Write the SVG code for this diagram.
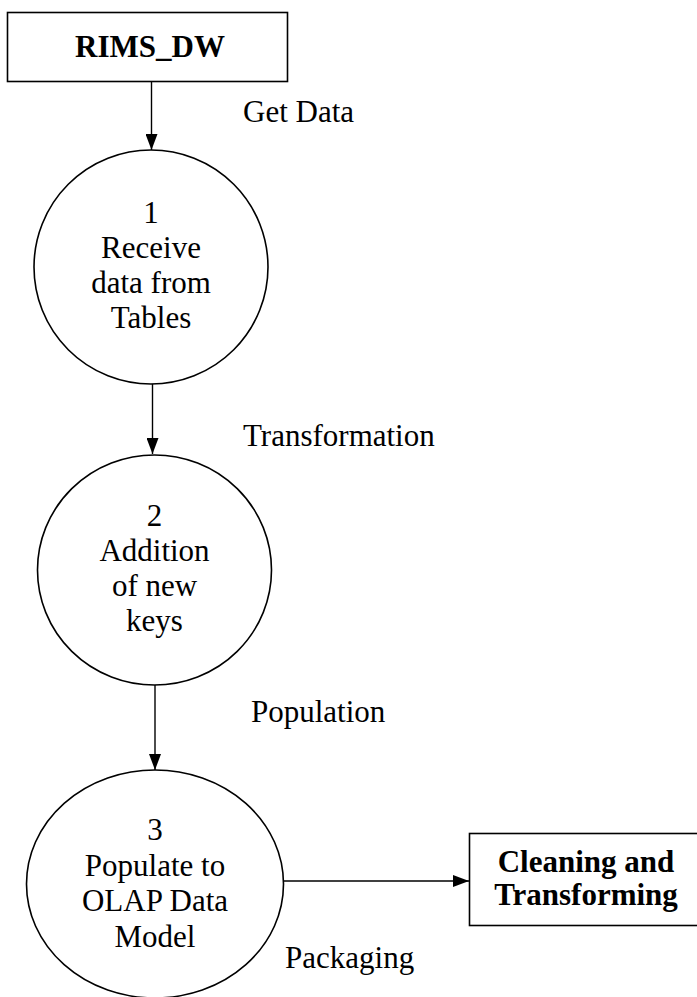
<svg xmlns="http://www.w3.org/2000/svg" width="697" height="997" viewBox="0 0 697 997">
  <style>
    .shape { fill: #ffffff; stroke: #000000; stroke-width: 1.6; }
    .flow { fill: none; stroke: #000000; stroke-width: 1.4; }
    .txt { font-family: "Liberation Serif", "Times New Roman", serif; font-size: 31px; fill: #000000; }
    .mid { text-anchor: middle; }
    .bold { font-weight: bold; }
  </style>
  <defs>
    <marker id="arrow" viewBox="0 0 16 12" refX="16" refY="6" markerWidth="16" markerHeight="12" markerUnits="userSpaceOnUse" orient="auto">
      <path d="M0,0 L16,6 L0,12 Z" fill="#000000"/>
    </marker>
  </defs>
  <rect width="697" height="997" fill="#ffffff"/>

  <!-- connectors -->
  <g id="connectors">
    <line class="flow" x1="151.5" y1="81" x2="151.5" y2="150" marker-end="url(#arrow)"/>
    <line class="flow" x1="152.5" y1="384" x2="152.5" y2="454" marker-end="url(#arrow)"/>
    <line class="flow" x1="155" y1="678" x2="155" y2="770" marker-end="url(#arrow)"/>
    <line class="flow" x1="283.5" y1="881" x2="469" y2="881" marker-end="url(#arrow)"/>
    <text class="txt" x="243" y="122">Get Data</text>
    <text class="txt" x="243" y="446">Transformation</text>
    <text class="txt" x="251" y="722">Population</text>
    <text class="txt" x="285" y="968">Packaging</text>
  </g>

  <!-- source store -->
  <g id="rims-dw">
    <rect class="shape" x="7.5" y="12.5" width="280" height="69"/>
    <text class="txt bold mid" x="150" y="57" font-size="38">RIMS_DW</text>
  </g>

  <!-- process 1 -->
  <g id="process-1">
    <ellipse class="shape" cx="151" cy="267" rx="117" ry="117"/>
    <text class="txt mid" x="151" y="223">1</text>
    <text class="txt mid" x="151" y="258">Receive</text>
    <text class="txt mid" x="151" y="293">data from</text>
    <text class="txt mid" x="151" y="328">Tables</text>
  </g>

  <!-- process 2 -->
  <g id="process-2">
    <ellipse class="shape" cx="154.5" cy="570" rx="117" ry="115"/>
    <text class="txt mid" x="154.5" y="526">2</text>
    <text class="txt mid" x="154.5" y="561">Addition</text>
    <text class="txt mid" x="154.5" y="596">of new</text>
    <text class="txt mid" x="154.5" y="631">keys</text>
  </g>

  <!-- process 3 -->
  <g id="process-3">
    <ellipse class="shape" cx="155" cy="884" rx="128.5" ry="114"/>
    <text class="txt mid" x="155" y="840">3</text>
    <text class="txt mid" x="155" y="875.5">Populate to</text>
    <text class="txt mid" x="155" y="911">OLAP Data</text>
    <text class="txt mid" x="155" y="946.5">Model</text>
  </g>

  <!-- destination -->
  <g id="cleaning">
    <rect class="shape" x="469.5" y="833.5" width="233" height="92"/>
    <text class="txt bold mid" x="586" y="872" font-size="30">Cleaning and</text>
    <text class="txt bold mid" x="586" y="905" font-size="30">Transforming</text>
  </g>
</svg>
